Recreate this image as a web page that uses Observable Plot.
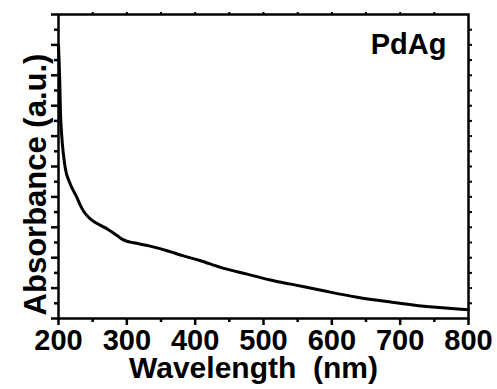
<!DOCTYPE html>
<html>
<head>
<meta charset="utf-8">
<script src="https://cdn.jsdelivr.net/npm/d3@7"></script>
<script src="https://cdn.jsdelivr.net/npm/@observablehq/plot@0.6"></script>
<style>
  html, body { margin: 0; padding: 0; background: #fff; }
</style>
</head>
<body>
<div id="chart"></div>
<script>
const wavelength = [200, 201.8, 202.8, 204.7, 206.9, 209.8, 217, 227, 232, 237, 244, 251, 261, 273, 285.6, 293, 300, 310, 334, 359, 383, 408, 437, 476, 515, 540, 588, 637, 686, 735, 800];
const absorbance = [8.98, 7.82, 6.84, 6.02, 5.46, 4.96, 4.43, 3.98, 3.72, 3.52, 3.33, 3.2, 3.07, 2.92, 2.73, 2.61, 2.54, 2.49, 2.38, 2.23, 2.06, 1.9, 1.68, 1.46, 1.24, 1.13, 0.91, 0.7, 0.54, 0.4, 0.29];
const xTicks = [200, 300, 400, 500, 600, 700, 800];
const xMinorTicks = [250, 350, 450, 550, 650, 750];
const xTopTicks = [250, 300, 350, 400, 450, 500, 550, 600, 650, 700, 750];
const yTicks = [0, 1, 2, 3, 4, 5, 6, 7, 8, 9, 10];
const yMinorTicks = [0.5, 1.5, 2.5, 3.5, 4.5, 5.5, 6.5, 7.5, 8.5, 9.5];
const sampleLabel = "PdAg";
const xTitle = "Wavelength\u00A0\u00A0(nm)";
const yTitle = "Absorbance (a.u.)";

const data = wavelength.map((w, i) => ({w, a: absorbance[i]}));
const font = "'Liberation Sans', Arial, Helvetica, sans-serif";

const chart = Plot.plot({
  width: 497,
  height: 389,
  marginLeft: 58,
  marginRight: 29,
  marginTop: 14,
  marginBottom: 71,
  style: {fontFamily: font, fontSize: "29px", fontWeight: "bold", color: "#000", background: "#fff"},
  x: {domain: [200, 800]},
  y: {domain: [0, 10]},
  marks: [
    Plot.axisX(xTicks, {anchor: "bottom", tickSize: 7, tickPadding: 4, strokeWidth: 2.5, label: null, fontSize: 29, tickFormat: d => String(d)}),
    Plot.axisX(xMinorTicks, {anchor: "bottom", tickSize: 4, strokeWidth: 2.5, label: null, fill: "none"}),
    Plot.axisX(xTopTicks, {anchor: "top", tickSize: 3, strokeWidth: 2, label: null, fill: "none"}),
    Plot.axisY(yTicks, {anchor: "left", tickSize: 7, strokeWidth: 2.5, label: null, fill: "none"}),
    Plot.axisY(yMinorTicks, {anchor: "left", tickSize: 4, strokeWidth: 2.5, label: null, fill: "none"}),
    Plot.axisY(yMinorTicks.concat(yTicks.slice(1, -1)), {anchor: "right", tickSize: 3, strokeWidth: 2, label: null, fill: "none"}),
    Plot.frame({stroke: "#000", strokeWidth: 2.5}),
    Plot.line(data, {x: "w", y: "a", stroke: "#000", strokeWidth: 3, curve: "monotone-x"}),
    Plot.text([sampleLabel], {frameAnchor: "top-right", text: d => d, textAnchor: "end", lineAnchor: "bottom", dx: -22, dy: 39, fontSize: 29, fontWeight: "bold", fill: "#000"}),
    Plot.text([xTitle], {frameAnchor: "bottom", text: d => d, textAnchor: "middle", lineAnchor: "bottom", dx: -10, dy: 59, fontSize: 30, fontWeight: "bold", fill: "#000"}),
    Plot.text([yTitle], {frameAnchor: "left", text: d => d, textAnchor: "middle", lineAnchor: "bottom", rotate: -90, dx: -13, dy: 18, fontSize: 31, fontWeight: "bold", fill: "#000"})
  ]
});
document.getElementById("chart").appendChild(chart);
</script>
</body>
</html>
